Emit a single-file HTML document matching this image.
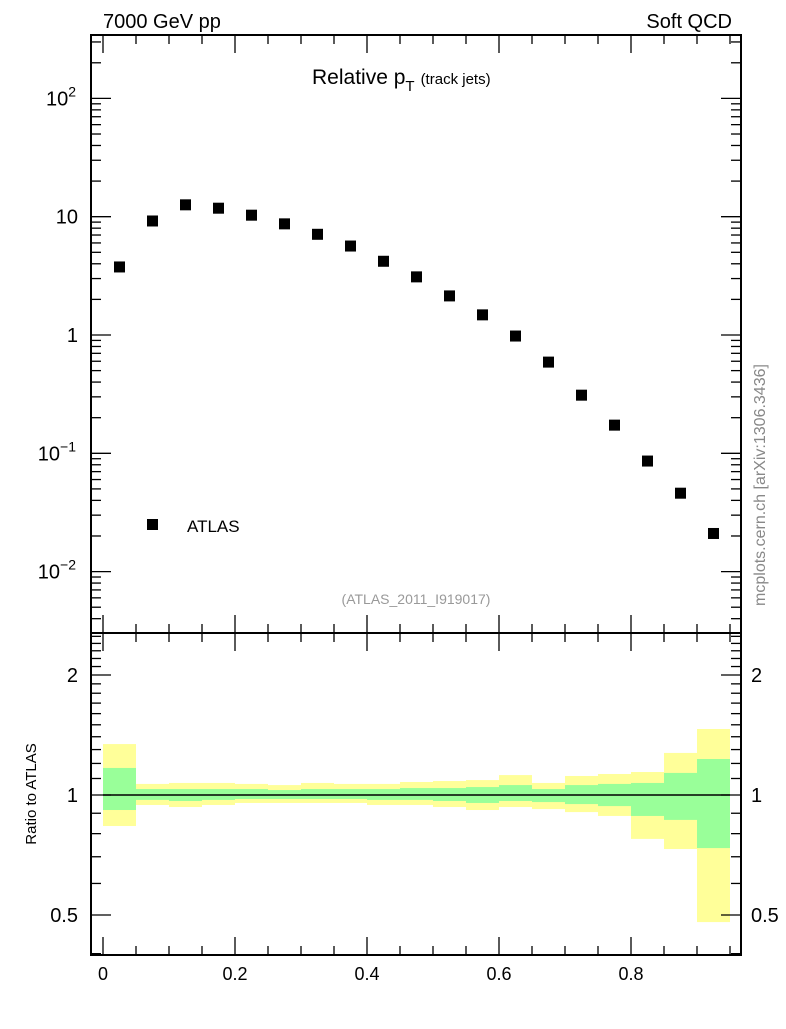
<!DOCTYPE html>
<html><head><meta charset="utf-8">
<style>
html,body{margin:0;padding:0;background:#fff;}
svg text{font-family:"Liberation Sans",Arial,sans-serif;}
</style></head>
<body>
<svg id="chart" width="786" height="1024" viewBox="0 0 786 1024" xmlns="http://www.w3.org/2000/svg">
<text x="103" y="28" font-size="20">7000 GeV pp</text>
<text x="732" y="28" font-size="20" text-anchor="end">Soft QCD</text>
<text x="312" y="84" font-size="21">Relative p<tspan font-size="15" dy="7">T</tspan><tspan font-size="15" dy="-7" dx="6">(track jets)</tspan></text>
<text x="416" y="604" font-size="14" fill="#999" text-anchor="middle">(ATLAS_2011_I919017)</text>
<text transform="translate(765,485) rotate(-90)" font-size="16" fill="#888" text-anchor="middle">mcplots.cern.ch [arXiv:1306.3436]</text>
<text transform="translate(36,794) rotate(-90)" font-size="15" text-anchor="middle">Ratio to ATLAS</text>
<rect x="147" y="519" width="11" height="11" fill="#000"/>
<text x="187" y="532" font-size="17">ATLAS</text>
<g id="bands"></g>
<g id="marks"></g>
<g id="axes"></g>
</svg>
<script>
const binLow = [0,0.05,0.1,0.15,0.2,0.25,0.3,0.35,0.4,0.45,0.5,0.55,0.6,0.65,0.7,0.75,0.8,0.85,0.9];
const binHigh = [0.05,0.1,0.15,0.2,0.25,0.3,0.35,0.4,0.45,0.5,0.55,0.6,0.65,0.7,0.75,0.8,0.85,0.9,0.95];
const atlasValues = [3.76,9.2,12.6,11.8,10.3,8.7,7.1,5.65,4.2,3.1,2.14,1.48,0.98,0.59,0.31,0.173,0.086,0.046,0.021];
const yellowHi = [1.342,1.066,1.072,1.072,1.066,1.059,1.072,1.066,1.066,1.078,1.084,1.090,1.122,1.072,1.116,1.129,1.142,1.275,1.464];
const greenHi = [1.169,1.035,1.035,1.035,1.035,1.029,1.035,1.035,1.035,1.041,1.041,1.047,1.059,1.035,1.059,1.066,1.072,1.136,1.231];
const greenLo = [0.917,0.972,0.966,0.972,0.977,0.977,0.977,0.977,0.972,0.972,0.966,0.955,0.966,0.960,0.949,0.938,0.886,0.866,0.736];
const yellowLo = [0.836,0.944,0.933,0.944,0.955,0.955,0.955,0.955,0.944,0.944,0.933,0.917,0.933,0.922,0.906,0.886,0.776,0.732,0.480];
const xTickLabels = ["0","0.2","0.4","0.6","0.8"];
const mainTickLabels = ["10^\u22122","10^\u22121","1","10","10^2"];
const ratioTickLabels = ["0.5","1","2"];

const NS="http://www.w3.org/2000/svg";
const L=91,R=741,T1=35,B1=633,B2=955;
const X=v=>103+v*660;
const Ym=v=>335-Math.log10(v)*118.3;
const Yr=v=>795-Math.log10(v)*398.7;
function mk(tag,attrs,parent){const e=document.createElementNS(NS,tag);for(const k in attrs)e.setAttribute(k,attrs[k]);parent.appendChild(e);return e;}
const bands=document.getElementById('bands'),marks=document.getElementById('marks'),axes=document.getElementById('axes');

for(let i=0;i<binLow.length;i++){
  const x0=X(binLow[i]),x1=X(binHigh[i]);
  const y=mk('rect',{x:x0,y:Yr(yellowHi[i]),width:x1-x0,height:Yr(yellowLo[i])-Yr(yellowHi[i]),fill:'#ffff99'},bands);
  
  
  const g=mk('rect',{x:x0,y:Yr(greenHi[i]),width:x1-x0,height:Yr(greenLo[i])-Yr(greenHi[i]),fill:'#99ff99'},bands);
  
  
  const cx=X((binLow[i]+binHigh[i])/2),cy=Ym(atlasValues[i]);
  const p=mk('rect',{x:cx-5.5,y:cy-5.5,width:11,height:11,fill:'#000'},marks);
  
  
}
const ref=mk('line',{x1:X(0),x2:X(0.95),y1:Yr(1),y2:Yr(1),stroke:'#000','stroke-width':1.5},marks);



const f1=mk('rect',{x:L,y:T1,width:R-L,height:B1-T1,fill:'none',stroke:'#000','stroke-width':2},axes);


const f2=mk('rect',{x:L,y:B1,width:R-L,height:B2-B1,fill:'none',stroke:'#000','stroke-width':2},axes);


function tick(x1,y1,x2,y2){mk('line',{x1,y1,x2,y2,stroke:'#000','stroke-width':1.3},axes);}
for(let k=0;k<=19;k++){
  const v=k*0.05,x=X(v),maj=(k%4===0),len=maj?18:9;
  for(const [top,bot] of [[T1,B1],[B1,B2]]){tick(x,bot,x,bot-len);tick(x,top,x,top+len);}
}
xTickLabels.forEach((s,i)=>{
  const t=mk('text',{x:X(i*0.2),y:980,'font-size':18,'text-anchor':'middle'},axes);
  t.textContent=s;
  
  
});
for(let e=-3;e<=2;e++){for(let m=1;m<=9;m++){
  const y=Ym(m*Math.pow(10,e));if(y<T1||y>B1)continue;
  const len=m===1?20:10;tick(L,y,L+len,y);tick(R,y,R-len,y);}}
mainTickLabels.forEach((s,i)=>{
  const e=i-2,y=Ym(Math.pow(10,e))+7;
  const t=mk('text',{x:78,y:y,'font-size':20,'text-anchor':'end'},axes);
  
  
  const parts=s.split('^');
  if(parts.length===1){t.textContent=s;}
  else{const a=mk('tspan',{},t);a.textContent=parts[0];const b=mk('tspan',{'font-size':14,dy:-9},t);b.textContent=parts[1];t.setAttribute('x',76);}
});
for(let k=4;k<=25;k++){const v=k/10,y=Yr(v);if(y<B1||y>B2)continue;
  const maj=(k===5||k===10||k===20),len=maj?20:10;tick(L,y,L+len,y);tick(R,y,R-len,y);}
ratioTickLabels.forEach(s=>{
  const y=Yr(parseFloat(s))+7;
  const t=mk('text',{x:78,y:y,'font-size':20,'text-anchor':'end'},axes);t.textContent=s;
  
  
  const t2=mk('text',{x:751,y:y,'font-size':20},axes);t2.textContent=s;
  
  
});
</script>
</body></html>
